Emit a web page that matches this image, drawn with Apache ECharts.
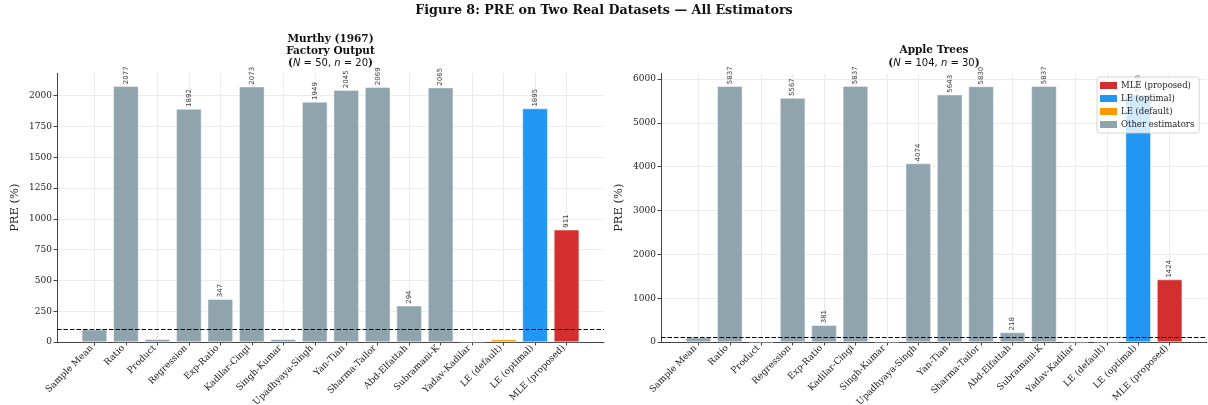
<!DOCTYPE html>
<html>
<head>
<meta charset="utf-8">
<script src="https://cdn.jsdelivr.net/npm/echarts@6/dist/echarts.min.js"></script>
<style>
  html, body { margin: 0; padding: 0; background: #fff; }
  #chart { width: 1208px; height: 405px; }
</style>
</head>
<body>
<div id="chart"></div>
<script>
// Estimators compared on both datasets
const estimators = ['Sample Mean', 'Ratio', 'Product', 'Regression', 'Exp-Ratio', 'Kadilar-Cingi',
  'Singh-Kumar', 'Upadhyaya-Singh', 'Yan-Tian', 'Sharma-Tailor', 'Abd-Elfattah', 'Subramani-K',
  'Yadav-Kadilar', 'LE (default)', 'LE (optimal)', 'MLE (proposed)'];

// PRE (%) relative to the sample mean
const murthyPRE = [100, 2077, 22, 1892, 347, 2073, 22, 1949, 2045, 2069, 294, 2065, 3, 20, 1895, 911];
const appleTreesPRE = [100, 5837, 5, 5567, 381, 5837, 5, 4074, 5643, 5830, 218, 5837, 2, 4, 5640, 1424];

// y-axis tick values
const murthyTicks = [0, 250, 500, 750, 1000, 1250, 1500, 1750, 2000];
const appleTreesTicks = [0, 1000, 2000, 3000, 4000, 5000, 6000];

// reference level (sample mean = 100 %)
const baselinePRE = 100;
// bars below this PRE carry no value label
const labelThreshold = 200;

// highlight groups, in legend order
const groupNames = ['MLE (proposed)', 'LE (optimal)', 'LE (default)', 'Other estimators'];
const groupColors = ['#D32F2F', '#2196F3', '#FF9800', '#90A4AE'];

const SERIF = 'DejaVu Serif';
const SANS = 'DejaVu Sans';

function groupOf(name) {
  const k = groupNames.indexOf(name);
  return k >= 0 ? k : 3;
}

const chart = echarts.init(document.getElementById('chart'), null, { renderer: 'canvas' });

// panel layout (pixels)
const panels = [
  { left: 57, width: 547, values: murthyPRE, ticks: murthyTicks },
  { left: 661, width: 546, values: appleTreesPRE, ticks: appleTreesTicks }
];
const plotTop = 73.4;
const plotHeight = 268.6;
const n = estimators.length;
const margin = 0.4 + 0.05 * (n - 1 + 0.8);   // half bar + 5 % autoscale margin

const grid = [], xAxis = [], yAxis = [], series = [];

panels.forEach((p, k) => {
  const unit = p.width / (n - 1 + 2 * margin);
  const gMain = k * 2, gCat = k * 2 + 1;
  const yMax = Math.max(...p.values) * 1.05;
  const step = p.ticks[1] - p.ticks[0];
  const lastTick = p.ticks[p.ticks.length - 1];

  grid.push({ left: p.left, top: plotTop, width: p.width, height: plotHeight, outerBoundsMode: 'none' });
  grid.push({ left: p.left + margin * unit, top: plotTop, width: (n - 1) * unit, height: plotHeight,
    outerBoundsMode: 'none' });

  // value x-axis carrying the bars and the bottom spine
  xAxis.push({
    type: 'value', gridIndex: gMain, min: -margin, max: n - 1 + margin,
    axisLine: { show: true, onZero: false, lineStyle: { color: '#444', width: 1 } },
    axisTick: { show: false }, axisLabel: { show: false }, splitLine: { show: false }
  });
  // category x-axis for tick labels, tick marks and vertical grid lines
  xAxis.push({
    type: 'category', gridIndex: gCat, data: estimators, boundaryGap: false, position: 'bottom',
    axisLine: { show: false, onZero: false },
    axisTick: { show: true, inside: false, interval: 0, length: 3.5, lineStyle: { color: '#444', width: 1 } },
    axisLabel: { interval: 0, rotate: 45, margin: 2, padding: [0, 4, 0, 0],
      fontFamily: SERIF, fontSize: 9, color: '#222' },
    splitLine: { show: true, interval: 0, lineStyle: { color: '#e6e6e6', width: 0.8 } }
  });

  yAxis.push({
    type: 'value', gridIndex: gMain, min: 0, max: yMax, interval: step,
    name: 'PRE (%)', nameLocation: 'middle', nameGap: 36,
    nameTextStyle: { fontFamily: SERIF, fontSize: 11.5, color: '#222' },
    axisLine: { show: true, onZero: false, lineStyle: { color: '#444', width: 1 } },
    axisTick: { show: true, length: 3.5, lineStyle: { color: '#444', width: 1 } },
    axisLabel: { margin: 5, fontFamily: SERIF, fontSize: 9, color: '#222', showMaxLabel: false,
      formatter: (v) => (v <= lastTick ? String(v) : '') },
    splitLine: { show: true, showMaxLine: false, lineStyle: { color: '#e6e6e6', width: 0.8 } }
  });
  yAxis.push({ type: 'value', gridIndex: gCat, min: 0, max: 1, show: false,
    axisLine: { show: false, onZero: false }, axisTick: { show: false }, axisLabel: { show: false },
    splitLine: { show: false } });

  groupNames.forEach((gName, gi) => {
    const data = [];
    p.values.forEach((v, i) => { if (groupOf(estimators[i]) === gi) data.push([i, v]); });
    const s = {
      name: gName, type: 'bar', xAxisIndex: gMain, yAxisIndex: gMain,
      data: data, barWidth: 0.8 * unit, barGap: '-100%',
      itemStyle: { color: groupColors[gi], borderColor: 'rgba(255,255,255,0.9)', borderWidth: 0.5 },
      label: {
        show: true, position: 'top', rotate: 90, align: 'left', verticalAlign: 'middle', distance: 2,
        fontFamily: SANS, fontSize: 7, color: '#444',
        formatter: (q) => (q.value[1] >= labelThreshold ? String(q.value[1]) : '')
      },
      emphasis: { disabled: true },
      animation: false
    };
    if (gi === 3) {
      s.markLine = {
        silent: true, symbol: 'none', z: 10,
        label: { show: false },
        lineStyle: { color: '#000', type: [4.5, 2], width: 1.2 },
        data: [{ yAxis: baselinePRE }]
      };
    }
    series.push(s);
  });
});

const rich = {
  b: { fontFamily: SERIF, fontWeight: 'bold', fontSize: 10.5, lineHeight: 12.3, color: '#111' },
  i: { fontFamily: SANS, fontStyle: 'italic', fontWeight: 'normal', fontSize: 10, lineHeight: 12.3, color: '#111' },
  m: { fontFamily: SANS, fontWeight: 'normal', fontSize: 10, lineHeight: 12.3, color: '#111' }
};

chart.setOption({
  animation: false,
  backgroundColor: '#fff',
  title: [
    {
      text: 'Figure 8: PRE on Two Real Datasets \u2014 All Estimators',
      left: 'center', top: 4, padding: 0,
      textStyle: { fontFamily: SERIF, fontWeight: 'bold', fontSize: 12.7, color: '#111' }
    },
    {
      text: '{b|Murthy (1967)}\n{b|Factory Output}\n{b|(}{i|N}{m| = 50, }{i|n}{m| = 20}{b|)}',
      left: panels[0].left + panels[0].width / 2, textAlign: 'center', top: 33, padding: 0,
      textStyle: { rich: rich, fontWeight: 'normal' }
    },
    {
      text: '{b|Apple Trees}\n{b|(}{i|N}{m| = 104, }{i|n}{m| = 30}{b|)}',
      left: panels[1].left + panels[1].width / 2, textAlign: 'center', top: 44.5, padding: 0,
      textStyle: { rich: rich, fontWeight: 'normal' }
    }
  ],
  legend: {
    data: groupNames, orient: 'vertical', left: 1097, top: 77,
    icon: 'rect', itemWidth: 17, itemHeight: 7, itemGap: 4,
    backgroundColor: 'rgba(255,255,255,0.8)', borderColor: '#cccccc', borderWidth: 0.8, borderRadius: 3,
    padding: [4, 5, 4, 3], selectedMode: false,
    itemStyle: { borderWidth: 0 },
    textStyle: { fontFamily: SERIF, fontSize: 8.5, color: '#222', padding: [0, 0, 0, -1] }
  },
  grid: grid,
  xAxis: xAxis,
  yAxis: yAxis,
  series: series
});
</script>
</body>
</html>
